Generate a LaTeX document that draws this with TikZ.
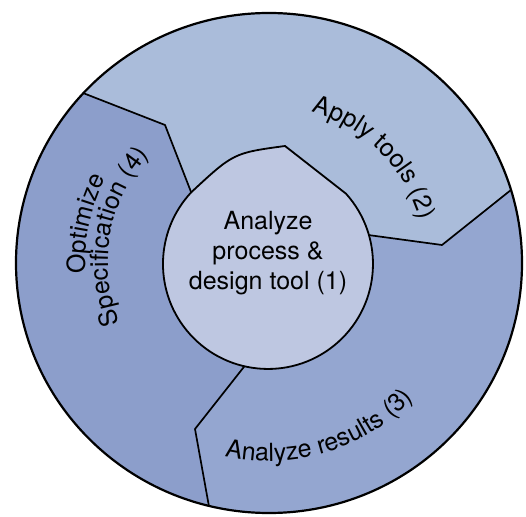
\documentclass[tikz,border=0pt]{standalone}
\usepackage{fontspec}
\setmainfont{TeX Gyre Heros}
\usetikzlibrary{decorations.text}
\definecolor{applyblue}{RGB}{170,188,218}
\definecolor{resultblue}{RGB}{148,166,208}
\definecolor{optblue}{RGB}{140,158,203}
\definecolor{coreblue}{RGB}{190,199,225}
\newcommand\lblfont{\fontsize{25}{30}\selectfont}

\begin{document}
\begin{tikzpicture}
      [ x=1pt, y=1pt
      , rim/.style={black, line width=2.2pt}
      , divider/.style={black, line width=1.7pt, line join=miter}
      , core/.style={fill=coreblue, draw=black, line width=1.8pt}
      , curved/.style={decorate, decoration={text along path, text align=center, text={|\lblfont|#1}}}
      ]
    \useasboundingbox (0,0) rectangle (526,516);
    \coordinate (O) at (269,253);
    \coordinate (I) at (268,252);

    \coordinate (d1out) at (42,439);
    \coordinate (d1mid) at (165,391);
    \coordinate (d1in) at (191.2,323.6);
    \coordinate (d2out) at (541,350);
    \coordinate (d2mid) at (442,271);
    \coordinate (d2in) at (368.9,280.9);
    \coordinate (d3out) at (214.5,-21);
    \coordinate (d3mid) at (195,87);
    \coordinate (d3in) at (244.4,149.7);
    \coordinate (apex) at (285,370);
    \coordinate (rjoin) at (346.0,322.3);

    \begin{scope}
      \clip (O) ellipse [x radius=253, y radius=250];
      \fill[resultblue] (-20,-30) rectangle (550,540);
      \fill[applyblue] (d1out) -- (d1mid) -- (d1in) -- (I) -- (d2in) -- (d2mid) -- (d2out)
        -- (550,540) -- (42,540) -- cycle;
      \fill[optblue] (d1out) -- (d1mid) -- (d1in) -- (I) -- (d3in) -- (d3mid) -- (d3out)
        -- (-20,-30) -- (-20,439) -- cycle;
      \draw[divider] (d1out) -- (d1mid) -- (d1in);
      \draw[divider] (d2out) -- (d2mid) -- (d2in);
      \draw[divider] (d3out) -- (d3mid) -- (d3in);
    \end{scope}
    \draw[rim] (O) ellipse [x radius=253, y radius=250];

    \draw[core] (rjoin) arc[start angle=42, end angle=-223, radius=105]
      .. controls (233.5,363) .. (apex) -- cycle;
    \node[align=center, font=\lblfont] (step1) at (268,263) {Analyze\\process \&\\design tool (1)};

    \path[curved={Apply tools (2)}, shift={(O)}] (85:157) arc[start angle=85, end angle=5, radius=157];
    \path[curved={Optimize}, shift={(O)}] (218:184) arc[start angle=218, end angle=118, radius=184];
    \path[curved={Specification (4)}, shift={(O)}] (220:161) arc[start angle=220, end angle=120, radius=161];
    \path[curved={Analyze results (3)}, shift={(O)}] (237:198) arc[start angle=237, end angle=337, radius=198];
\end{tikzpicture}
\end{document}
